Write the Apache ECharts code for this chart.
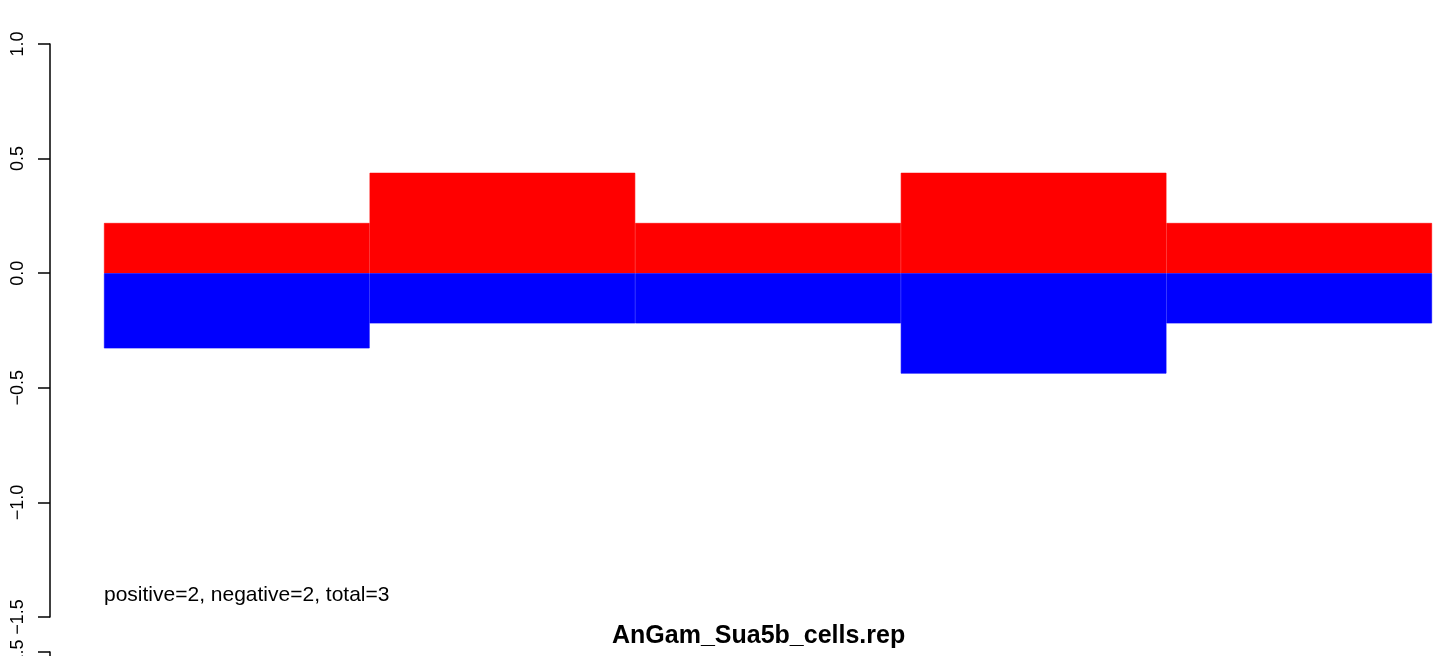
<!DOCTYPE html>
<html>
<head>
<meta charset="utf-8">
<script src="https://cdn.jsdelivr.net/npm/echarts@6/dist/echarts.min.js"></script>
<style>
  html, body { margin: 0; padding: 0; background: #fff; }
  #repChart { width: 1452px; height: 656px; }
</style>
</head>
<body>
<div id="repChart"></div>
<script>
  // windows along the sequence, one bar each
  const categories = ['1', '2', '3', '4', '5'];
  const positiveValues = [0.219, 0.438, 0.219, 0.438, 0.219];
  const negativeValues = [-0.328, -0.219, -0.219, -0.438, -0.219];
  const yTicks = { min: -1.5, max: 1.0, step: 0.5 };
  // next panel's axis, only its top tick shows at the bottom edge
  const nextTicks = { min: -1.0, max: 1.5, step: 0.5 };
  const titleText = 'AnGam_Sua5b_cells.rep';
  const noteText = 'positive=2, negative=2, total=3';

  const fontFamily = '"Liberation Sans", Arial, Helvetica, sans-serif';
  const axisColor = '#000';

  let myChart = echarts.init(document.getElementById('repChart'), null, { renderer: 'canvas' });

  function fmt(v) {
    // R writes the minus as a real minus sign
    return v < 0 ? '\u2212' + Math.abs(v).toFixed(1) : v.toFixed(1);
  }

  function yAxisFor(gridIndex, ticks) {
    return {
      type: 'value',
      gridIndex,
      min: ticks.min,
      max: ticks.max,
      interval: ticks.step,
      offset: 54,
      axisLine: { show: true, onZero: false, lineStyle: { color: axisColor, width: 1.5 } },
      axisTick: { show: true, length: 12, lineStyle: { color: axisColor, width: 1.5 } },
      axisLabel: {
        rotate: 90,
        margin: 23,
        fontFamily,
        fontSize: 18,
        color: '#000',
        formatter: fmt
      },
      splitLine: { show: false }
    };
  }

  const option = {
    backgroundColor: '#fff',
    animation: false,
    title: [
      {
        text: titleText,
        left: 607,
        top: 619,
        textStyle: { fontFamily, fontSize: 25, fontWeight: 'bold', color: '#000' }
      },
      {
        text: noteText,
        left: 99,
        top: 580,
        textStyle: { fontFamily, fontSize: 21, fontWeight: 'normal', color: '#000' }
      }
    ],
    grid: [
      { left: 104, right: 20, top: 44, height: 573 },
      { left: 104, right: 20, top: 652, height: 573 }
    ],
    xAxis: [
      {
        type: 'category',
        gridIndex: 0,
        data: categories,
        axisLine: { show: false },
        axisTick: { show: false },
        axisLabel: { show: false },
        splitLine: { show: false }
      },
      {
        type: 'category',
        gridIndex: 1,
        data: categories,
        show: false
      }
    ],
    yAxis: [yAxisFor(0, yTicks), yAxisFor(1, nextTicks)],
    series: [
      {
        name: 'positive',
        type: 'bar',
        xAxisIndex: 0,
        yAxisIndex: 0,
        data: positiveValues,
        barCategoryGap: 0,
        barGap: '-100%',
        itemStyle: { color: '#ff0000', borderColor: '#ff0000', borderWidth: 0.6 }
      },
      {
        name: 'negative',
        type: 'bar',
        xAxisIndex: 0,
        yAxisIndex: 0,
        data: negativeValues,
        barCategoryGap: 0,
        barGap: '-100%',
        itemStyle: { color: '#0000ff', borderColor: '#0000ff', borderWidth: 0.6 }
      }
    ]
  };

  myChart.setOption(option);
  window.addEventListener('resize', myChart.resize);
</script>
</body>
</html>
